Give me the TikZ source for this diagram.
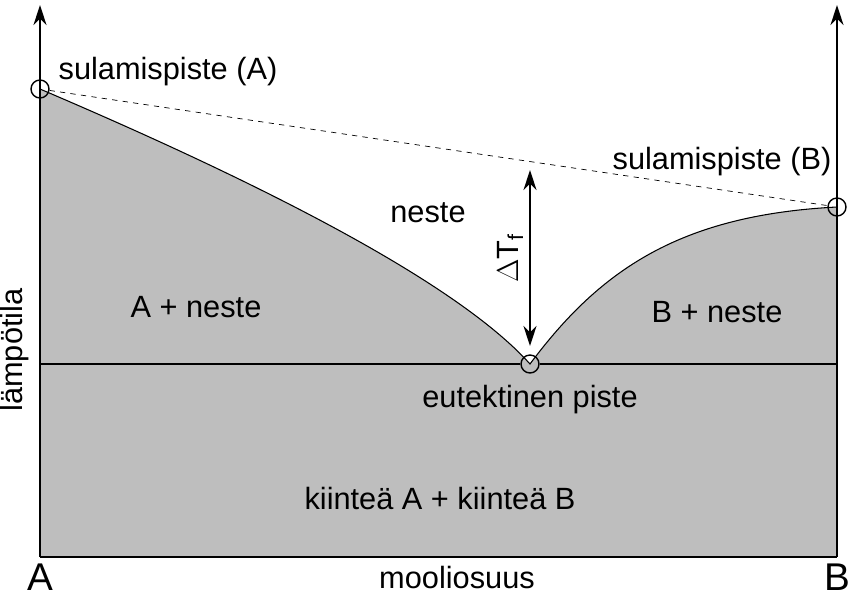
\documentclass[tikz,border=0pt]{standalone}
\usepackage{fontspec}
\setmainfont{Liberation Sans}
\usetikzlibrary{positioning,arrows.meta,calc}
\definecolor{phasegray}{RGB}{190,190,190}

\begin{document}
\begin{tikzpicture}[
x=0.02cm,y=-0.02cm,
lbl/.style={font=\fontsize{17.5}{20}\selectfont},
pt/.style={draw,circle,inner sep=0pt,minimum size=0.36cm,thick},
axis/.style={very thick,-{Stealth[length=4mm,width=2.6mm]}},
]
\useasboundingbox (0,0) rectangle (866,600);

% phase areas
\fill[phasegray] (40,89) .. controls (230,170) and (450,275) .. (530,364)
  .. controls (600,270) and (680,215) .. (837,207) -- (837,557) -- (40,557) -- cycle;

% axes
\coordinate (a0) at (40,557);
\coordinate (b0) at (837,557);
\coordinate (atop) at (40,5);
\coordinate (btop) at (837,5);
\draw[thick] (a0) -- (b0);
\draw[axis] (a0) -- (atop);
\draw[axis] (b0) -- (btop);

% special points
\node[pt] (mA) at (40,89) {};
\node[pt] (mB) at (837,207) {};
\node[pt] (eu) at (530,364) {};

\draw[semithick] (40,89) .. controls (230,170) and (450,275) .. (530,364)
  .. controls (600,270) and (680,215) .. (837,207);
\draw[dashed] (mA) -- (mB);
\draw[semithick] (40,364) -- (eu) -- (837,364);

% delta T
\coordinate (dtop) at (530,170);
\coordinate (dbot) at (530,346);
\draw[very thick,{Stealth[length=4mm,width=2.6mm]}-{Stealth[length=4mm,width=2.6mm]}] (dbot) -- (dtop);
\node[lbl,rotate=90] (dT) at (510,258) {$\Delta$T\textsubscript{f}};

% labels
\node[lbl] (sA) at (168,72) {sulamispiste (A)};
\node[lbl] (sB) at (722,162) {sulamispiste (B)};
\node[lbl] (liq) at (428,213) {neste};
\node[lbl] (Aliq) at (196,307) {A + neste};
\node[lbl] (Bliq) at (717,312) {B + neste};
\node[lbl] (eut) at (530,400) {eutektinen piste};
\node[lbl] (sol) at (440,498) {kiinteä A + kiinteä B};
\node[lbl] (xlab) at (457,577) {mooliosuus};
\node[lbl,rotate=90] (ylab) at (15,350) {lämpötila};
\node[font=\fontsize{22}{24}\selectfont] (lA) at (40,577) {A};
\node[font=\fontsize{22}{24}\selectfont] (lB) at (837,577) {B};
\end{tikzpicture}
\end{document}
